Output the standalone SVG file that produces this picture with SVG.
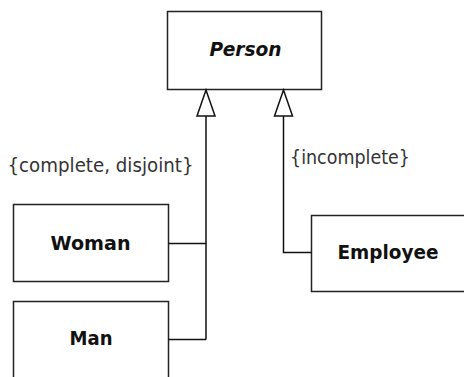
<svg xmlns="http://www.w3.org/2000/svg" width="464" height="377" viewBox="0 0 464 377">
<style>
.box{fill:#fff;stroke:#222;stroke-width:1.5}
.name{font-family:"DejaVu Sans",Verdana,sans-serif;font-weight:bold;font-size:20px;fill:#111;text-anchor:middle}
.lbl{font-family:"DejaVu Sans",Verdana,sans-serif;font-size:19px;fill:#333}
.conn{fill:none;stroke:#111;stroke-width:1.5}
.tri{fill:#fff;stroke:#111;stroke-width:1.5;stroke-linejoin:miter}
</style>
<rect width="464" height="377" fill="#fff"/>
<g id="person">
<rect class="box" x="167.5" y="11.5" width="154" height="78"/>
<text class="name" x="245.5" y="55.5" font-style="italic" textLength="72" lengthAdjust="spacingAndGlyphs">Person</text>
</g>
<g id="woman">
<rect class="box" x="13.5" y="204.5" width="155" height="77"/>
<text class="name" x="90.5" y="249.5" textLength="80" lengthAdjust="spacingAndGlyphs">Woman</text>
</g>
<g id="man">
<rect class="box" x="13.5" y="301.5" width="155" height="90"/>
<text class="name" x="91" y="344.5" textLength="43" lengthAdjust="spacingAndGlyphs">Man</text>
</g>
<g id="employee">
<rect class="box" x="311.5" y="215.5" width="170" height="76"/>
<text class="name" x="388" y="258.5" textLength="101" lengthAdjust="spacingAndGlyphs">Employee</text>
</g>
<g id="connectors">
<path class="conn" d="M206 116 V339.5 M168.5 243.5 H206 M168.5 339.5 H206"/>
<path class="conn" d="M283.5 116 V252.5 H311.5"/>
<polygon class="tri" points="206,90 197,116 215,116"/>
<polygon class="tri" points="283.5,90 274.5,116 292.5,116"/>
<text class="lbl" x="7.5" y="172" textLength="186" lengthAdjust="spacingAndGlyphs">{complete, disjoint}</text>
<text class="lbl" x="290" y="164" textLength="120" lengthAdjust="spacingAndGlyphs">{incomplete}</text>
</g>
</svg>
